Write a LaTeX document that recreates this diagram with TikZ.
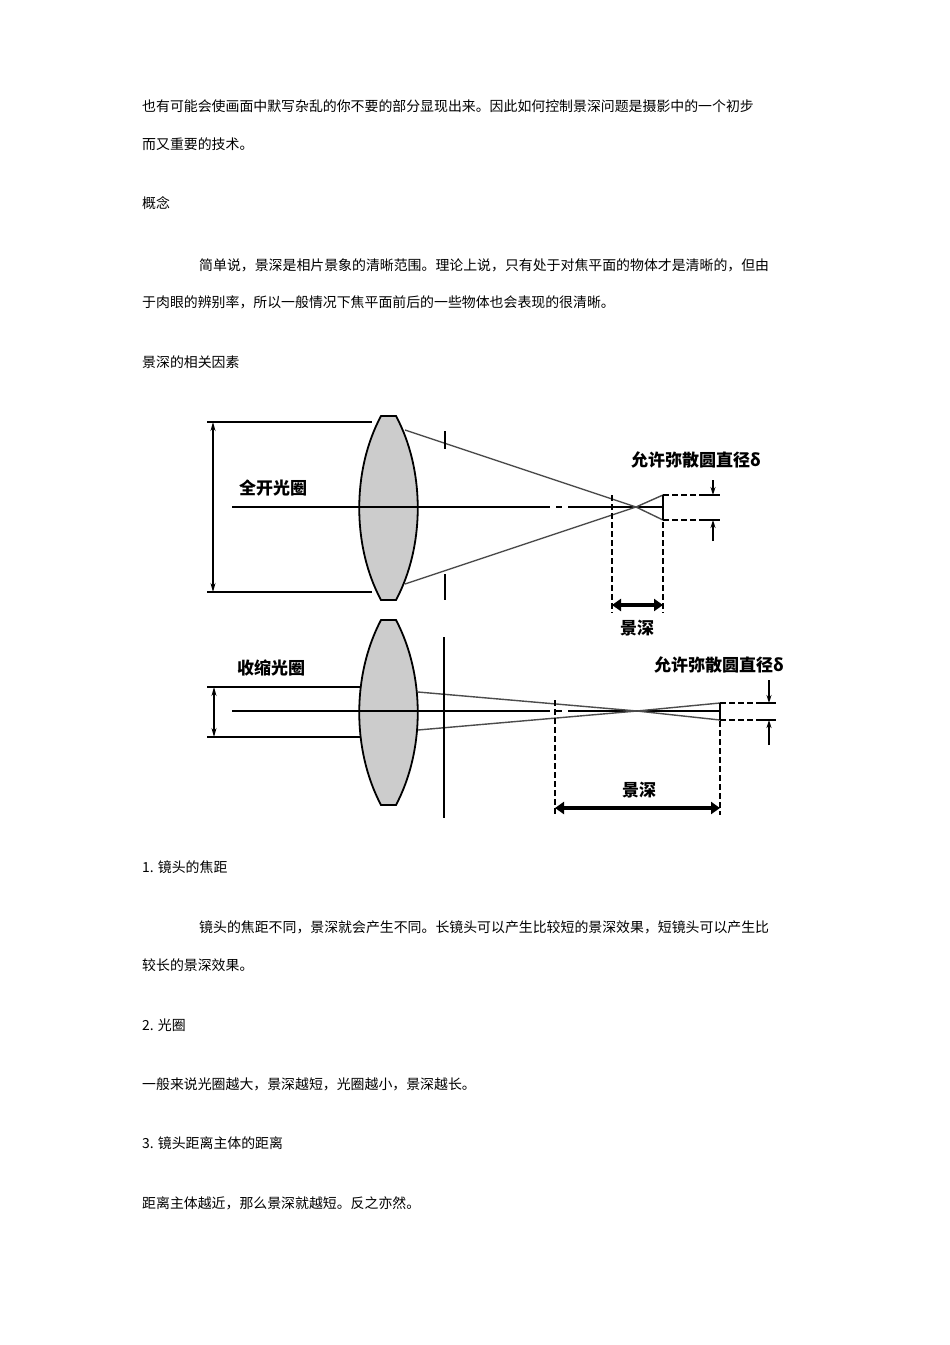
\documentclass[tikz,border=0pt]{standalone}
\usepackage{fontspec}
\setmainfont{Noto Sans CJK SC}
\usetikzlibrary{arrows.meta}
\begin{document}
\begin{tikzpicture}[x=1pt,y=-1pt,
  txt/.style={anchor=west,inner sep=0pt,font=\fontsize{13.9}{14}\selectfont},
  lbl/.style={inner sep=0pt,font=\fontsize{17}{18}\selectfont\bfseries},
  ln/.style={line width=1.6pt},
  ray/.style={line width=1.4pt,gray!60!black},
  dsh/.style={line width=1.2pt,dash pattern=on 6pt off 3pt},
  lens/.style={draw,line width=1.8pt,fill=gray!40},
  dim/.style={line width=1.2pt,{Stealth[length=9pt,width=5pt]}-{Stealth[length=9pt,width=5pt]}},
  big/.style={line width=4pt,{Triangle[length=9pt,width=12pt]}-{Triangle[length=9pt,width=12pt]}},
  ah/.style={line width=1.2pt,-{Stealth[length=8pt,width=5pt]}}]
\useasboundingbox[fill=white] (0,0) rectangle (950,1345);
\node[txt] (t1) at (142,106) {也有可能会使画面中默写杂乱的你不要的部分显现出来。因此如何控制景深问题是摄影中的一个初步};
\node[txt] (t2) at (142,144) {而又重要的技术。};
\node[txt] (t3) at (142,203) {概念};
\node[txt] (t4) at (199,265) {简单说，景深是相片景象的清晰范围。理论上说，只有处于对焦平面的物体才是清晰的，但由};
\node[txt] (t5) at (142,302) {于肉眼的辨别率，所以一般情况下焦平面前后的一些物体也会表现的很清晰。};
\node[txt] (t6) at (142,362) {景深的相关因素};
\node[txt] (t7) at (142,867) {1. 镜头的焦距};
\node[txt] (t8) at (199,927) {镜头的焦距不同，景深就会产生不同。长镜头可以产生比较短的景深效果，短镜头可以产生比};
\node[txt] (t9) at (142,965) {较长的景深效果。};
\node[txt] (t10) at (142,1025) {2. 光圈};
\node[txt] (t11) at (142,1084) {一般来说光圈越大，景深越短，光圈越小，景深越长。};
\node[txt] (t12) at (142,1143) {3. 镜头距离主体的距离};
\node[txt] (t13) at (142,1203) {距离主体越近，那么景深就越短。反之亦然。};
% ---------- top diagram ----------
\draw[ln] (207,422) -- (372,422);
\draw[ln] (207,592) -- (372,592);
\draw[dim] (213,422) -- (213,592);
\draw[ln,dash pattern=on 150pt off 6pt on 6pt off 6pt on 150pt off 6pt on 6pt off 6pt on 200pt] (232,507) -- (663,507);
\node[lbl] (a1) at (273,488) {全开光圈};
\draw[ray] (405,430) -- (636,507) -- (663,520);
\draw[ray] (405,584) -- (636,507) -- (663,495);
\draw[lens] (381,416) -- (396,416) .. controls (425,470) and (425,546) .. (396,600) -- (381,600) .. controls (352,546) and (352,470) .. (381,416) -- cycle;
\draw[ln] (360,507) -- (417,507);
\draw[line width=2pt] (445,431) -- (445,449);
\draw[line width=2pt] (445,574) -- (445,600);
\draw[dsh] (612,495) -- (612,613);
\draw[dsh] (663,495) -- (663,613);
\draw[dsh] (663,495) -- (720,495);
\draw[dsh] (663,520) -- (720,520);
\draw[ln] (663,495) -- (663,520);
\draw[ah] (713,480) -- (713,495);
\draw[ah] (713,541) -- (713,520);
\draw[ln] (704,495) -- (720,495);
\draw[ln] (704,520) -- (720,520);
\node[lbl] (d1) at (696,460) {允许弥散圆直径δ};
\draw[big] (612,605) -- (663,605);
\node[lbl] (j1) at (637,628) {景深};
% ---------- bottom diagram ----------
\draw[ln] (207,687) -- (362,687);
\draw[ln] (207,737) -- (362,737);
\draw[dim] (214,687) -- (214,737);
\node[lbl] (a2) at (271,668) {收缩光圈};
\draw[ln,dash pattern=on 150pt off 6pt on 6pt off 6pt on 150pt off 6pt on 6pt off 6pt on 200pt] (232,711) -- (720,711);
\draw[ray] (418,692) -- (637,711) -- (720,720);
\draw[ray] (418,730) -- (637,711) -- (720,703);
\draw[lens] (381,620) -- (396,620) .. controls (425,675) and (425,750) .. (396,805) -- (381,805) .. controls (352,750) and (352,675) .. (381,620) -- cycle;
\draw[ln] (360,711) -- (417,711);
\draw[line width=2pt] (444,637) -- (444,818);
\draw[dsh] (555,700) -- (555,815);
\draw[dsh] (720,703) -- (720,815);
\draw[dsh] (720,703) -- (776,703);
\draw[dsh] (720,720) -- (776,720);
\draw[ln] (720,703) -- (720,720);
\draw[ah] (769,680) -- (769,703);
\draw[ah] (769,745) -- (769,720);
\draw[ln] (760,703) -- (776,703);
\draw[ln] (760,720) -- (776,720);
\node[lbl] (d2) at (719,665) {允许弥散圆直径δ};
\draw[big] (555,808) -- (720,808);
\node[lbl] (j2) at (639,790) {景深};
\end{tikzpicture}
\end{document}
